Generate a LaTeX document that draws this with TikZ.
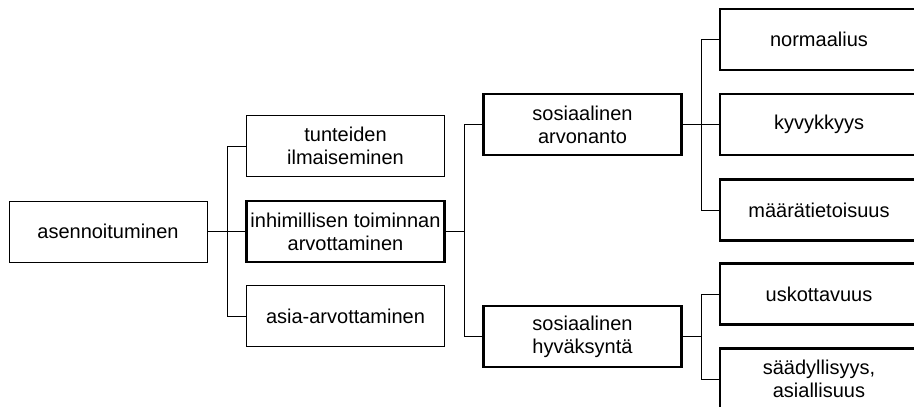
\documentclass[tikz,border=0pt]{standalone}
\usepackage{fontspec}
\setmainfont{Liberation Sans}
\usepackage{tikz}
\usetikzlibrary{calc, positioning}

\tikzset{
    box/.style={draw, line width=1pt, minimum width=198pt, minimum height=61pt,
        inner sep=0pt, align=center, font=\fontsize{20}{23}\selectfont},
    boldbox/.style={box, line width=2.2pt},
    conn/.style={line width=1pt}
}

\begin{document}
\begin{tikzpicture}[x=1pt, y=-1pt]
    \useasboundingbox (0,0) rectangle (914,407);
    \clip (0,0) rectangle (914,407);
    % Ensimmainen taso:
    \node[box] (asenn) at (108,231.5) {asennoituminen};
    \node[box] (tunteet) at (345.5,146) {tunteiden\\ilmaiseminen};
    \node[boldbox] (inhim) at (345.5,231.5) {inhimillisen toiminnan\\arvottaminen};
    \node[box] (asia) at (345.5,316) {asia-arvottaminen};
    \coordinate (sp1) at (227,0);
    \draw[conn] (asenn.east) -- (inhim.west);
    \draw[conn] (tunteet.west) -- (tunteet.west -| sp1) -- (asia.west -| sp1) -- (asia.west);
    % Toinen taso:
    \node[boldbox] (arvon) at (582.5,124.5) {sosiaalinen\\arvonanto};
    \node[boldbox] (hyvak) at (582.5,336.7) {sosiaalinen\\hyväksyntä};
    \coordinate (sp2) at (464,0);
    \draw[conn] (inhim.east) -- (inhim.east -| sp2);
    \draw[conn] (arvon.west) -- (arvon.west -| sp2) -- (hyvak.west -| sp2) -- (hyvak.west);
    % Kolmas taso:
    \node[boldbox] (norm) at (819,39.5) {normaalius};
    \node[boldbox] (kyvyk) at (819,124.5) {kyvykkyys};
    \node[boldbox] (maara) at (819,210) {määrätietoisuus};
    \node[boldbox] (usko) at (819,294) {uskottavuus};
    \node[boldbox] (saady) at (819,379) {säädyllisyys,\\asiallisuus};
    \coordinate (sp3) at (701,0);
    \draw[conn] (arvon.east) -- (kyvyk.west);
    \draw[conn] (norm.west) -- (norm.west -| sp3) -- (maara.west -| sp3) -- (maara.west);
    \draw[conn] (hyvak.east) -- (hyvak.east -| sp3);
    \draw[conn] (usko.west) -- (usko.west -| sp3) -- (saady.west -| sp3) -- (saady.west);
\end{tikzpicture}
\end{document}
